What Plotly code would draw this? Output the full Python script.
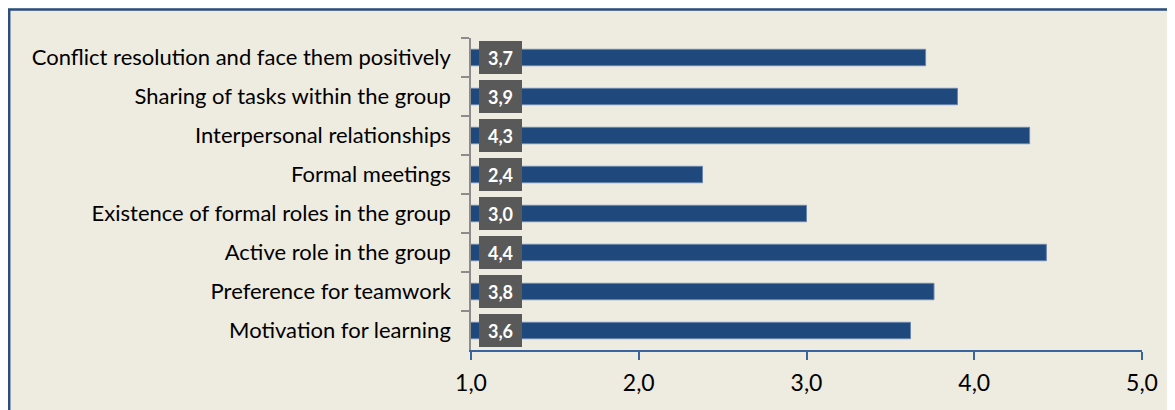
import plotly.graph_objects as go

categories = [
    "Conflict resolution and face them positively",
    "Sharing of tasks within the group",
    "Interpersonal relationships",
    "Formal meetings",
    "Existence of formal roles in the group",
    "Active role in the group",
    "Preference for teamwork",
    "Motivation for learning",
]
values = [3.71, 3.90, 4.33, 2.38, 3.00, 4.43, 3.76, 3.62]
labels = ["3,7", "3,9", "4,3", "2,4", "3,0", "4,4", "3,8", "3,6"]
x_ticks = [1, 2, 3, 4, 5]
x_tick_labels = ["1,0", "2,0", "3,0", "4,0", "5,0"]

FONT = "Lato"
BG = "#EEEBE0"

W, H = 1175, 410
L, R, T, B = 463, 41, 30, 68
PW, PH = W - L - R, H - T - B

fig = go.Figure()
fig.add_trace(go.Bar(
    x=values, y=categories, orientation="h",
    marker=dict(color="#1F497D", line=dict(color="#6A86AE", width=1)),
    hoverinfo="x+y",
))

for cat, lab in zip(categories, labels):
    fig.add_annotation(
        x=1, y=cat, xref="x", yref="y", text="<b>" + lab + "</b>",
        showarrow=False, xanchor="left", xshift=8,
        width=41, height=31, borderpad=0, borderwidth=1,
        bordercolor="#595959", bgcolor="#595959",
        font=dict(family=FONT, size=18, color="white"),
    )

# outer framed background
fig.add_shape(
    type="rect", xref="paper", yref="paper",
    x0=(1.2 - L) / PW, x1=(W + 10 - L) / PW,
    y0=-(B + 10) / PH, y1=(PH + T - 1.5) / PH,
    fillcolor=BG, line=dict(color="#2B4F81", width=2.5), layer="below",
)

fig.update_layout(
    width=W, height=H,
    margin=dict(l=L, r=R, t=T, b=B),
    paper_bgcolor=BG, plot_bgcolor="rgba(0,0,0,0)",
    bargap=0.58, showlegend=False,
    separators=",.",
    font=dict(family=FONT, color="black"),
)
fig.update_xaxes(
    range=[1, 5], tickvals=x_ticks, ticktext=x_tick_labels,
    showgrid=False, zeroline=False,
    showline=True, linecolor="#3A63A0", linewidth=1.5,
    ticks="outside", ticklen=8, tickcolor="#3A63A0", tickwidth=1.5,
    tickfont=dict(family=FONT, size=23, color="black"),
    ticklabelstandoff=4,
)
fig.update_yaxes(
    autorange="reversed", showgrid=False, zeroline=False,
    showline=True, linecolor="#8C8C8C", linewidth=1.5,
    ticks="outside", ticklen=8, tickcolor="#8C8C8C", tickwidth=1.5,
    tickson="boundaries",
    tickfont=dict(family=FONT, size=22, color="black"),
    ticklabelstandoff=14,
)

fig.write_html("out.html")
